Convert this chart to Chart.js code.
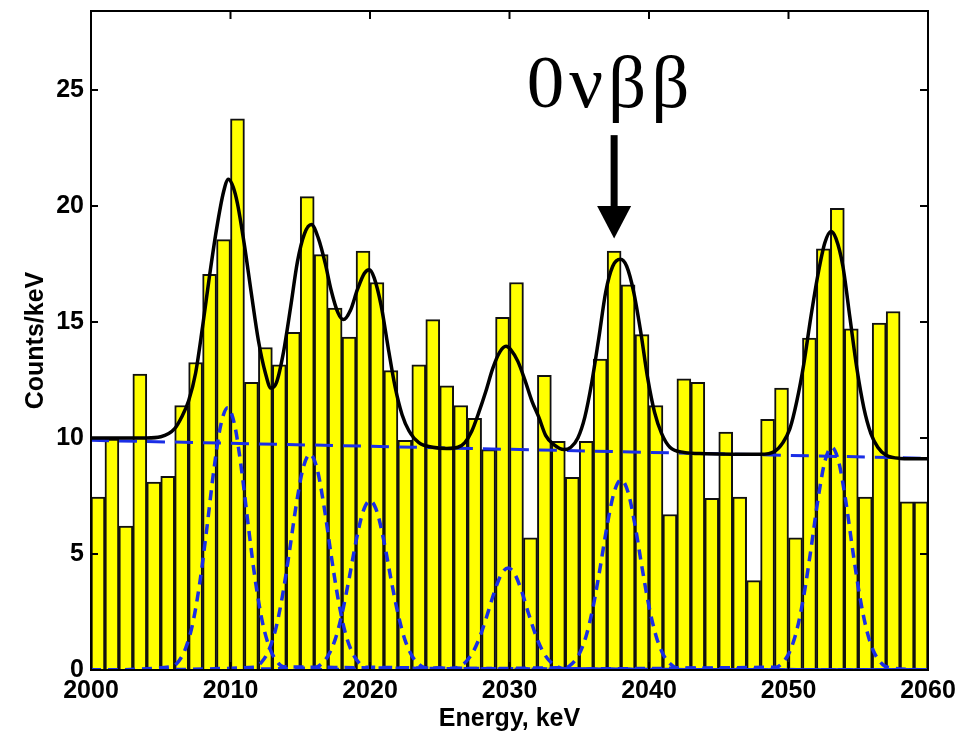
<!DOCTYPE html>
<html>
<head>
<meta charset="utf-8">
<script src="https://cdn.jsdelivr.net/npm/chart.js@4.4.0/dist/chart.umd.min.js"></script>
<style>
  html, body { margin: 0; padding: 0; background: #fff; }
  #wrap { width: 969px; height: 734px; }
</style>
</head>
<body>
<div id="wrap"><canvas id="myChart" width="969" height="734"></canvas></div>
<script>
// histogram bins, 1 keV wide (bin centres)
const binEnergy = [
  2000.5, 2001.5, 2002.5, 2003.5, 2004.5, 2005.5, 2006.5, 2007.5, 2008.5, 2009.5,
  2010.5, 2011.5, 2012.5, 2013.5, 2014.5, 2015.5, 2016.5, 2017.5, 2018.5, 2019.5,
  2020.5, 2021.5, 2022.5, 2023.5, 2024.5, 2025.5, 2026.5, 2027.5, 2028.5, 2029.5,
  2030.5, 2031.5, 2032.5, 2033.5, 2034.5, 2035.5, 2036.5, 2037.5, 2038.5, 2039.5,
  2040.5, 2041.5, 2042.5, 2043.5, 2044.5, 2045.5, 2046.5, 2047.5, 2048.5, 2049.5,
  2050.5, 2051.5, 2052.5, 2053.5, 2054.5, 2055.5, 2056.5, 2057.5, 2058.5, 2059.5
];
const binCounts = [
  7.45, 9.95, 6.2, 12.75, 8.1, 8.35, 11.4, 13.25, 17.05, 18.55,
  23.75, 12.4, 13.9, 13.15, 14.55, 20.4, 17.9, 15.6, 14.35, 18.05,
  16.7, 12.9, 9.9, 13.15, 15.1, 12.25, 11.4, 10.85, 9.5, 15.2,
  16.7, 5.7, 12.7, 9.85, 8.3, 9.85, 13.4, 18.05, 16.6, 14.45,
  11.4, 6.7, 12.55, 12.4, 7.4, 10.25, 7.45, 3.85, 10.8, 12.15,
  5.7, 14.3, 18.15, 19.9, 14.7, 7.45, 14.95, 15.45, 7.25, 7.25
];

// total fit (black line)
const fitEnergy = [
  2000, 2002, 2004, 2005, 2006, 2006.5, 2007, 2007.5, 2008, 2008.5, 2009, 2009.5, 2009.85, 2010.2, 2010.5,
  2011, 2011.5, 2012, 2012.5, 2012.9, 2013.3, 2013.8, 2014.3, 2014.8, 2015.3, 2015.8, 2016.3, 2016.8,
  2017.2, 2017.7, 2018.1, 2018.6, 2019.1, 2019.6, 2019.95, 2020.3, 2020.8, 2021.3, 2021.8, 2022.3, 2022.8,
  2023.5, 2024.5, 2025.5, 2026.3, 2026.8, 2027.3, 2027.8, 2028.3, 2028.8, 2029.3, 2029.75, 2030.1, 2030.6,
  2031.1, 2031.6, 2032.1, 2032.6, 2033.2, 2033.9, 2034.4, 2034.9, 2035.4, 2035.9, 2036.4, 2036.9, 2037.4,
  2037.95, 2038.4, 2038.9, 2039.4, 2039.9, 2040.4, 2040.9, 2041.5, 2042.5, 2044, 2046, 2048, 2049, 2049.6,
  2050.1, 2050.6, 2051.1, 2051.6, 2052.1, 2052.6, 2053.05, 2053.4, 2053.9, 2054.4, 2054.9, 2055.4, 2055.9,
  2056.4, 2057, 2058, 2060
];
const fitCounts = [
  10.0, 10.0, 10.0, 10.05, 10.4, 10.9, 11.6, 12.8, 14.8, 17.0, 19.0, 20.6, 21.15, 20.8, 20.1,
  18.3, 16.2, 14.2, 12.8, 12.15, 12.4, 13.7, 15.6, 17.6, 18.8, 19.2, 18.6, 17.5,
  16.4, 15.4, 15.1, 15.5, 16.4, 17.1, 17.25, 16.9, 15.7, 13.9, 12.2, 11.0, 10.3,
  9.8, 9.6, 9.55, 9.6, 9.8, 10.3, 11.1, 12.0, 13.0, 13.7, 13.95, 13.8, 13.3,
  12.5, 11.6, 10.9, 10.1, 9.7, 9.5, 9.6, 10.0, 10.9, 12.4, 14.3, 16.3, 17.4,
  17.7, 17.4, 16.3, 14.6, 12.6, 11.1, 10.2, 9.6, 9.38, 9.32, 9.3, 9.3, 9.42, 9.8,
  10.4, 11.6, 13.2, 15.2, 17.0, 18.4, 18.9, 18.6, 17.4, 15.2, 13.0, 11.3, 10.2,
  9.6, 9.25, 9.12, 9.1
];

// linear background (blue dashed)
const bgEnergy = [2000, 2060];
const bgCounts = [9.9, 9.12];

// single peaks (blue dashed), tails run along zero
const peak1Energy = [2000, 2005.8, 2006.3, 2006.8, 2007.3, 2007.8, 2008.3, 2008.8, 2009.3, 2009.8, 2010.3, 2010.8, 2011.3, 2011.8, 2012.3, 2012.8, 2013.3, 2013.8, 2060];
const peak1Counts = [0, 0.14, 0.39, 0.96, 2.03, 3.77, 6.09, 8.59, 10.55, 11.3, 10.55, 8.59, 6.09, 3.77, 2.03, 0.96, 0.39, 0.14, 0];
const peak2Energy = [2000, 2011.7, 2012.2, 2012.7, 2013.2, 2013.7, 2014.2, 2014.7, 2015.2, 2015.7, 2016.2, 2016.7, 2017.2, 2017.7, 2018.2, 2018.7, 2019.2, 2019.7, 2060];
const peak2Counts = [0, 0.12, 0.32, 0.79, 1.67, 3.11, 5.01, 7.07, 8.69, 9.3, 8.69, 7.07, 5.01, 3.11, 1.67, 0.79, 0.32, 0.12, 0];
const peak3Energy = [2000, 2016.0, 2016.5, 2017.0, 2017.5, 2018.0, 2018.5, 2019.0, 2019.5, 2020.0, 2020.5, 2021.0, 2021.5, 2022.0, 2022.5, 2023.0, 2023.5, 2024.0, 2060];
const peak3Counts = [0, 0.09, 0.25, 0.62, 1.31, 2.44, 3.93, 5.55, 6.82, 7.3, 6.82, 5.55, 3.93, 2.44, 1.31, 0.62, 0.25, 0.09, 0];
const peak4Energy = [2000, 2025.9, 2026.4, 2026.9, 2027.4, 2027.9, 2028.4, 2028.9, 2029.4, 2029.9, 2030.4, 2030.9, 2031.4, 2031.9, 2032.4, 2032.9, 2033.4, 2033.9, 2060];
const peak4Counts = [0, 0.05, 0.15, 0.37, 0.79, 1.47, 2.37, 3.34, 4.11, 4.4, 4.11, 3.34, 2.37, 1.47, 0.79, 0.37, 0.15, 0.05, 0];
const peak5Energy = [2000, 2034.0, 2034.5, 2035.0, 2035.5, 2036.0, 2036.5, 2037.0, 2037.5, 2038.0, 2038.5, 2039.0, 2039.5, 2040.0, 2040.5, 2041.0, 2041.5, 2042.0, 2060];
const peak5Counts = [0, 0.10, 0.28, 0.69, 1.48, 2.74, 4.42, 6.23, 7.66, 8.2, 7.66, 6.23, 4.42, 2.74, 1.48, 0.69, 0.28, 0.10, 0];
const peak6Energy = [2000, 2049.1, 2049.6, 2050.1, 2050.6, 2051.1, 2051.6, 2052.1, 2052.6, 2053.1, 2053.6, 2054.1, 2054.6, 2055.1, 2055.6, 2056.1, 2056.6, 2057.1, 2060];
const peak6Counts = [0, 0.12, 0.33, 0.81, 1.73, 3.21, 5.17, 7.30, 8.97, 9.6, 8.97, 7.30, 5.17, 3.21, 1.73, 0.81, 0.33, 0.12, 0];

const xTicks = [2000, 2010, 2020, 2030, 2040, 2050, 2060];
const yTicks = [0, 5, 10, 15, 20, 25];
const peakLabel = '0νββ';
const peakLabelEnergy = 2037.1;
const arrowEnergy = 2037.5;

function pts (xs, ys) {
    var out = [];
    for (var i = 0; i < xs.length; i++) {
        out.push({x: xs[i], y: ys[i]});
    }
    return out;
}

const BLUE = '#1a2ee6';
const axisFont = {family: 'Liberation Sans, Arial, sans-serif', size: 25, weight: 'bold'};

function peakSet (xs, ys) {
    return {
        type: 'line',
        data: pts(xs, ys),
        borderColor: BLUE,
        borderWidth: 3.5,
        borderDash: [10, 7],
        pointRadius: 0,
        fill: false,
        cubicInterpolationMode: 'monotone',
        segment: {
            // the zero tails of all the curves overlap into a solid line
            borderDash: ctx => (ctx.p0.parsed.y === 0 && ctx.p1.parsed.y === 0) ? [] : undefined
        },
        order: 2
    };
}

// frame with inward ticks + the 0vbb label and arrow
const frameAndLabel = {
    id: 'frameAndLabel',
    afterDatasetsDraw (chart) {
        const ctx = chart.ctx;
        const a = chart.chartArea;
        const x = chart.scales.x, y = chart.scales.y;
        ctx.save();
        ctx.strokeStyle = '#000';
        ctx.lineWidth = 2;
        ctx.strokeRect(a.left, a.top, a.right - a.left, a.bottom - a.top);
        ctx.beginPath();
        xTicks.forEach(v => {
            const px = x.getPixelForValue(v);
            ctx.moveTo(px, a.top); ctx.lineTo(px, a.top + 8);
            ctx.moveTo(px, a.bottom); ctx.lineTo(px, a.bottom - 8);
        });
        yTicks.forEach(v => {
            const py = y.getPixelForValue(v);
            ctx.moveTo(a.left, py); ctx.lineTo(a.left + 7, py);
            ctx.moveTo(a.right, py); ctx.lineTo(a.right - 8, py);
        });
        ctx.stroke();

        // label
        ctx.fillStyle = '#000';
        ctx.font = '75px "Liberation Serif", "Times New Roman", serif';
        ctx.letterSpacing = '5px';
        ctx.textAlign = 'center';
        ctx.textBaseline = 'alphabetic';
        ctx.fillText(peakLabel, x.getPixelForValue(peakLabelEnergy) + 2, y.getPixelForValue(24.25));
        ctx.letterSpacing = '0px';

        // arrow
        const ax = x.getPixelForValue(arrowEnergy);
        ctx.lineWidth = 7;
        ctx.beginPath();
        ctx.moveTo(ax, y.getPixelForValue(23.05));
        ctx.lineTo(ax, y.getPixelForValue(19.8));
        ctx.stroke();
        ctx.beginPath();
        ctx.moveTo(ax - 17, y.getPixelForValue(20.0));
        ctx.lineTo(ax + 17, y.getPixelForValue(20.0));
        ctx.lineTo(ax, y.getPixelForValue(18.6));
        ctx.closePath();
        ctx.fill();
        ctx.restore();
    }
};

const myChart = document.getElementById('myChart').getContext('2d');
new Chart(myChart, {
    type: 'bar',
    data: {
        datasets: [
            {
                type: 'line',
                data: pts(fitEnergy, fitCounts),
                borderColor: '#000',
                borderWidth: 3.5,
                pointRadius: 0,
                fill: false,
                cubicInterpolationMode: 'monotone',
                order: 0
            },
            {
                type: 'line',
                data: pts(bgEnergy, bgCounts),
                borderColor: BLUE,
                borderWidth: 3,
                borderDash: [18, 10],
                pointRadius: 0,
                fill: false,
                order: 1
            },
            peakSet(peak1Energy, peak1Counts),
            peakSet(peak2Energy, peak2Counts),
            peakSet(peak3Energy, peak3Counts),
            peakSet(peak4Energy, peak4Counts),
            peakSet(peak5Energy, peak5Counts),
            peakSet(peak6Energy, peak6Counts),
            {
                type: 'bar',
                data: pts(binEnergy, binCounts),
                backgroundColor: '#ffff00',
                borderColor: '#111',
                borderWidth: 2,
                borderSkipped: 'bottom',
                barPercentage: 1,
                categoryPercentage: 1,
                order: 10
            }
        ]
    },
    options: {
        responsive: false,
        devicePixelRatio: 1,
        animation: false,
        events: [],
        layout: {padding: {top: 11, right: 41, left: 0, bottom: 0}},
        plugins: {legend: {display: false}, tooltip: {enabled: false}},
        scales: {
            x: {
                type: 'linear',
                min: 2000,
                max: 2060,
                offset: false,
                grid: {display: false, drawTicks: false},
                border: {display: false},
                ticks: {stepSize: 10, color: '#000', font: axisFont, padding: 6, maxRotation: 0, autoSkip: false,
                        callback: (v) => String(v)},
                title: {display: true, text: 'Energy, keV', color: '#000', font: axisFont, padding: {top: 0, bottom: 0}},
                afterFit: (s) => { s.height = 64; s.paddingLeft = 0; s.paddingRight = 0; }
            },
            y: {
                min: 0,
                max: 28.4,
                grid: {display: false, drawTicks: false},
                border: {display: false},
                ticks: {stepSize: 5, color: '#000', font: axisFont, padding: 7},
                afterBuildTicks: (s) => { s.ticks = s.ticks.filter(t => t.value % 5 === 0); },
                title: {display: true, text: 'Counts/keV', color: '#000', font: axisFont, padding: {top: 21, bottom: 0}},
                afterFit: (s) => { s.width = 91; s.paddingTop = 0; s.paddingBottom = 0; }
            }
        }
    },
    plugins: [frameAndLabel]
});
</script>
</body>
</html>
